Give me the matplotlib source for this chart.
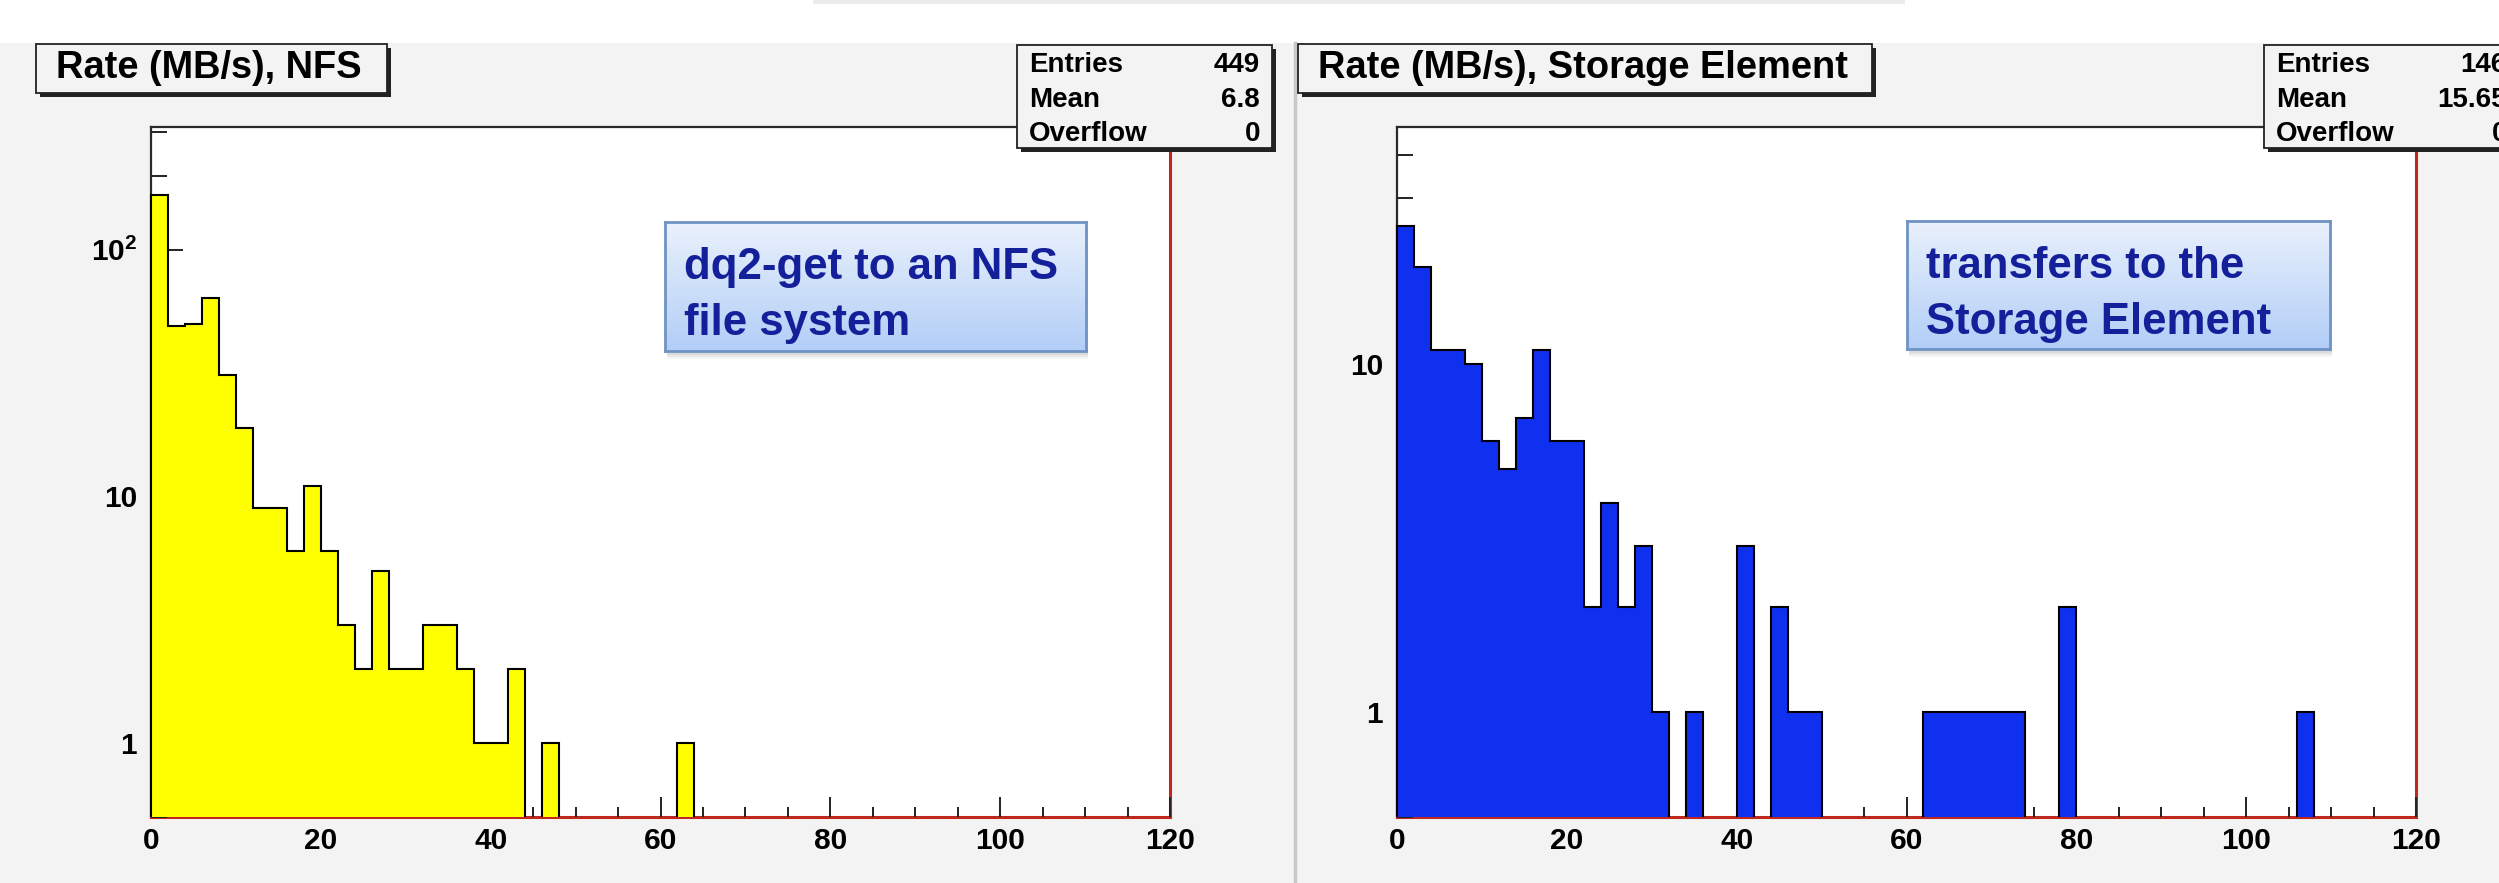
import numpy as np
import matplotlib
matplotlib.use("Agg")
import matplotlib.pyplot as plt
from matplotlib.patches import Rectangle
from matplotlib.ticker import LogLocator, MultipleLocator, NullFormatter, FixedLocator, FixedFormatter

plt.rcParams['font.family'] = ['Liberation Sans', 'DejaVu Sans']
plt.rcParams['font.weight'] = 'bold'
plt.rcParams['mathtext.fontset'] = 'custom'
plt.rcParams['mathtext.rm'] = 'Liberation Sans:bold'
plt.rcParams['mathtext.bf'] = 'Liberation Sans:bold'
plt.rcParams['mathtext.it'] = 'Liberation Sans:bold'

# ---------------- data ----------------
bin_edges = np.arange(0, 122, 2)          # 60 bins of width 2 MB/s, 0..120

nfs_counts = [167, 49, 50, 64, 31, 19, 9, 9, 6, 11,
              6, 3, 2, 5, 2, 2, 3, 3, 2, 1,
              1, 2, 0, 1, 0, 0, 0, 0, 0, 0,
              0, 1, 0, 0, 0, 0, 0, 0, 0, 0,
              0, 0, 0, 0, 0, 0, 0, 0, 0, 0,
              0, 0, 0, 0, 0, 0, 0, 0, 0, 0]

se_counts = [25, 19, 11, 11, 10, 6, 5, 7, 11, 6,
             6, 2, 4, 2, 3, 1, 0, 1, 0, 0,
             3, 0, 2, 1, 1, 0, 0, 0, 0, 0,
             0, 1, 1, 1, 1, 1, 1, 0, 0, 2,
             0, 0, 0, 0, 0, 0, 0, 0, 0, 0,
             0, 0, 0, 1, 0, 0, 0, 0, 0, 0]

titles = ["Rate (MB/s), NFS", "Rate (MB/s), Storage Element"]
stat_names = ["Entries", "Mean", "Overflow"]
nfs_stats = ["449", "6.8", "0"]
se_stats = ["146", "15.65", "0"]
notes = [["dq2-get to an NFS", "file system"], ["transfers to the", "Storage Element"]]
x_ticks = [0, 20, 40, 60, 80, 100, 120]
nfs_yticks = [1, 10, 100]
nfs_ylabels = ["1", "10", r"$10^{2}$"]
se_yticks = [1, 10]
se_ylabels = ["1", "10"]
ylims = [(0.5, 315), (0.5, 48)]

# ---------------- layout ----------------
W, H = 2499, 883
fig = plt.figure(figsize=(W / 100, H / 100), dpi=100)
fig.patch.set_facecolor('white')

def fx(x):
    return x / W

def fy(y):
    return 1 - y / H

def px_rect(x0, y0, x1, y1, **kw):
    r = Rectangle((fx(x0), fy(y1)), fx(x1) - fx(x0), fy(y0) - fy(y1),
                  transform=fig.transFigure, **kw)
    fig.patches.append(r)
    return r

PAD = '#f3f3f3'
px_rect(0, 43, W, H, facecolor=PAD, edgecolor='none', zorder=-10)
px_rect(813, -2, 1905, 4, facecolor='#ececec', edgecolor='none', zorder=-10)
fig.lines.append(plt.Line2D([fx(1295), fx(1295)], [fy(43), 0], transform=fig.transFigure,
                            color='#c8c8c8', lw=2.5, zorder=-9))

RED = '#c0281e'
colors = ['#ffff00', '#1030f0']
counts = [nfs_counts, se_counts]
yt = [nfs_yticks, se_yticks]
yl = [nfs_ylabels, se_ylabels]
ax_x = [(151, 1170), (1397, 2416)]
top_px, bot_px = 127, 817

for i in range(2):
    x0, x1 = ax_x[i]
    ax = fig.add_axes([fx(x0), fy(bot_px), fx(x1) - fx(x0), fy(top_px) - fy(bot_px)], zorder=1)
    ax.set_facecolor('white')
    ax.set_yscale('log')
    ax.set_xlim(0, 120)
    ax.set_ylim(*ylims[i])
    # empty bins are left undrawn (NaN) so that each run of filled bins is outlined on its own
    vals = np.array(counts[i], dtype=float)
    vals[vals == 0] = np.nan
    ax.stairs(vals, bin_edges, fill=True, baseline=ylims[i][0],
              facecolor=colors[i], edgecolor='black', lw=1.5, zorder=3, clip_on=False)
    ax.set_axisbelow(False)
    for s in ['left', 'top']:
        ax.spines[s].set_color('#2a2a2a')
        ax.spines[s].set_linewidth(1.6)
    for s in ['right', 'bottom']:
        ax.spines[s].set_color(RED)
        ax.spines[s].set_linewidth(2.2)
    ax.xaxis.set_major_locator(FixedLocator(x_ticks))
    ax.xaxis.set_minor_locator(MultipleLocator(5))
    ax.yaxis.set_major_locator(FixedLocator(yt[i]))
    ax.yaxis.set_major_formatter(FixedFormatter(yl[i]))
    ax.yaxis.set_minor_locator(LogLocator(base=10, subs=np.arange(2, 10)))
    ax.yaxis.set_minor_formatter(NullFormatter())
    ax.tick_params(axis='x', which='major', direction='in', length=14.4, width=1.4,
                   color='#222222', labelsize=21.5, pad=7, top=False)
    ax.tick_params(axis='x', which='minor', direction='in', length=7.2, width=1.4,
                   color='#222222', top=False)
    ax.tick_params(axis='y', which='major', direction='in', length=23, width=1.4,
                   color='#222222', labelsize=21.5, pad=10, right=False)
    ax.tick_params(axis='y', which='minor', direction='in', length=11.5, width=1.4,
                   color='#222222', right=False)
    for lab in ax.get_xticklabels() + ax.get_yticklabels():
        lab.set_fontweight('bold')

# ---------------- title boxes ----------------
title_boxes = [(36, 44, 387, 93), (1298, 44, 1872, 93)]
for i, (a, b, c, d) in enumerate(title_boxes):
    px_rect(a + 4, b + 4, c + 4, d + 4, facecolor='#222222', edgecolor='none', zorder=4)
    px_rect(a, b, c, d, facecolor=PAD, edgecolor='#222222', lw=1.3, zorder=5)
    fig.text(fx(a + 20), fy(78), titles[i], fontsize=27.4, fontweight='bold',
             color='black', va='baseline', ha='left', zorder=6)

# ---------------- stats boxes ----------------
stat_boxes = [(1017, 45, 1272, 148), (2264, 45, 2519, 148)]
stat_vals = [nfs_stats, se_stats]
baselines = [72, 107, 141]
for i, (a, b, c, d) in enumerate(stat_boxes):
    px_rect(a + 4, b + 4, c + 4, d + 4, facecolor='#222222', edgecolor='none', zorder=4)
    px_rect(a, b, c, d, facecolor=PAD, edgecolor='#222222', lw=1.3, zorder=5)
    for k in range(3):
        fig.text(fx(a + 12), fy(baselines[k]), stat_names[k], fontsize=20,
                 fontweight='bold', va='baseline', ha='left', zorder=6)
        fig.text(fx(a + 243), fy(baselines[k]), stat_vals[i][k], fontsize=20,
                 fontweight='bold', va='baseline', ha='right', zorder=6)

# ---------------- annotation boxes ----------------
note_boxes = [(665, 222, 1086, 351), (1907, 221, 2330, 349)]
grad = np.linspace(0, 1, 256)[:, None]
top_c = np.array([234, 241, 252]) / 255
bot_c = np.array([178, 206, 247]) / 255
img = top_c[None, None, :] * (1 - grad[:, :, None]) + bot_c[None, None, :] * grad[:, :, None]
for i, (a, b, c, d) in enumerate(note_boxes):
    for k, al in enumerate([0.06, 0.05, 0.04]):
        px_rect(a + 2, b + 4 + 2 * k, c + 2, d + 4 + 2 * k, facecolor='black',
                edgecolor='none', alpha=al, zorder=6)
    nax = fig.add_axes([fx(a), fy(d), fx(c) - fx(a), fy(b) - fy(d)], zorder=7)
    nax.imshow(img, aspect='auto', extent=(0, 1, 0, 1), interpolation='bilinear')
    nax.set_xlim(0, 1)
    nax.set_ylim(0, 1)
    nax.set_xticks([])
    nax.set_yticks([])
    for s in nax.spines.values():
        s.set_color('#6f93c4')
        s.set_linewidth(2)
    for k, line in enumerate(notes[i]):
        fig.text(fx(a + 19), fy(b + 57 + 56 * k), line, fontsize=31.5, fontweight='bold',
                 color='#14209a', va='baseline', ha='left', zorder=8)

fig.savefig('out.png', dpi=100, facecolor=fig.get_facecolor())
